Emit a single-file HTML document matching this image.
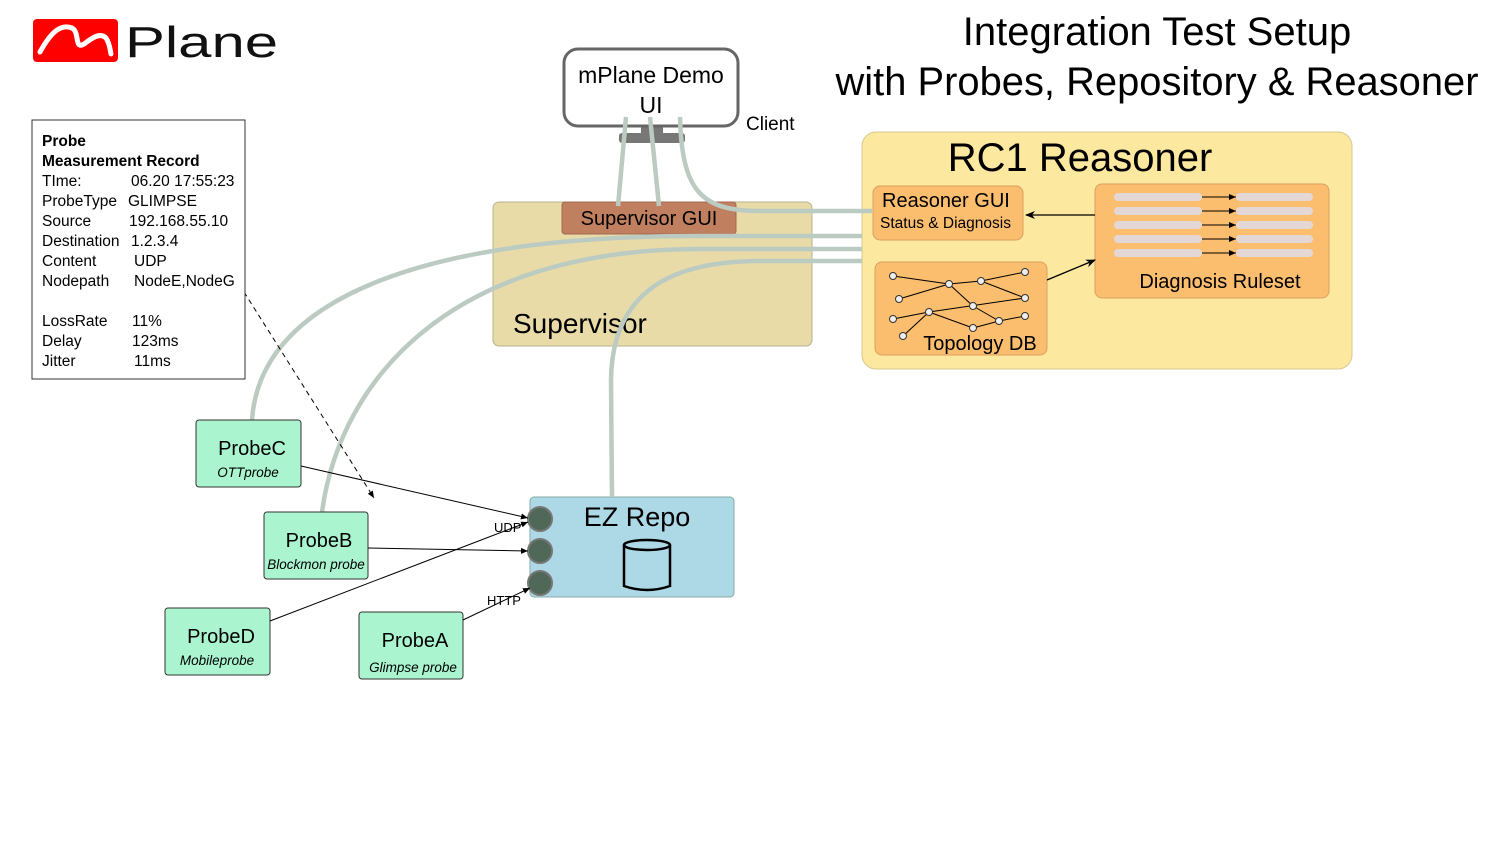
<!DOCTYPE html>
<html><head><meta charset="utf-8"><style>
html,body{margin:0;padding:0;background:#fff;}
svg{display:block;font-family:"Liberation Sans",Arial,sans-serif;}
</style></head><body>
<svg width="1500" height="850" viewBox="0 0 1500 850" xmlns="http://www.w3.org/2000/svg">
<defs>
<marker id="a" markerWidth="10" markerHeight="8" refX="9" refY="4" orient="auto" markerUnits="userSpaceOnUse"><path d="M0,0 L10,4 L0,8 L3,4 z" fill="#000"/></marker>
<marker id="s" markerWidth="7" markerHeight="6" refX="7" refY="3" orient="auto" markerUnits="userSpaceOnUse"><path d="M0,0 L7,3 L0,6 z" fill="#000"/></marker>
</defs>
<!-- logo -->
<rect x="33" y="19" width="85" height="43" rx="4" fill="#f00"/>
<path d="M40,52 C52,30 62,24 72,28 C80,32 74,50 84,44 C92,38 100,32 106,38 C110,44 110,50 111,54" fill="none" stroke="#fff" stroke-width="5" stroke-linecap="round"/>
<text x="125" y="57" font-size="44" fill="#111" textLength="153" lengthAdjust="spacingAndGlyphs">Plane</text>
<!-- title -->
<text x="1157" y="45" font-size="40" text-anchor="middle">Integration Test Setup</text>
<text x="1157" y="95" font-size="40" text-anchor="middle" textLength="643" lengthAdjust="spacingAndGlyphs">with Probes, Repository &amp; Reasoner</text>
<!-- supervisor -->
<rect x="493" y="202" width="319" height="144" rx="6" fill="#e8dba8" stroke="#b8b090"/>
<text x="513" y="333" font-size="28">Supervisor</text>
<rect x="562" y="202" width="174" height="32" rx="3" fill="#c08060" stroke="#a06a50"/>
<text x="649" y="225" font-size="20" text-anchor="middle">Supervisor GUI</text>
<!-- reasoner -->
<rect x="862" y="132" width="490" height="237" rx="14" fill="#fde8a0" stroke="#d8c890"/>
<text x="1080" y="171" font-size="40" text-anchor="middle">RC1 Reasoner</text>
<rect x="873" y="186" width="150" height="54" rx="7" fill="#fbbd6e" stroke="#d9a060"/>
<text x="882" y="207" font-size="20">Reasoner GUI</text>
<text x="880" y="228" font-size="15.5">Status &amp; Diagnosis</text>
<rect x="1095" y="184" width="234" height="114" rx="7" fill="#fbbd6e" stroke="#d9a060"/>
<g fill="#e4d8d6">
<rect x="1114" y="193" width="88" height="8" rx="4"/><rect x="1236" y="193" width="77" height="8" rx="4"/>
<rect x="1114" y="207" width="88" height="8" rx="4"/><rect x="1236" y="207" width="77" height="8" rx="4"/>
<rect x="1114" y="221" width="88" height="8" rx="4"/><rect x="1236" y="221" width="77" height="8" rx="4"/>
<rect x="1114" y="235" width="88" height="8" rx="4"/><rect x="1236" y="235" width="77" height="8" rx="4"/>
<rect x="1114" y="249" width="88" height="8" rx="4"/><rect x="1236" y="249" width="77" height="8" rx="4"/>
</g>
<g stroke="#000" stroke-width="1">
<line x1="1202" y1="197" x2="1236" y2="197" marker-end="url(#s)"/>
<line x1="1202" y1="211" x2="1236" y2="211" marker-end="url(#s)"/>
<line x1="1202" y1="225" x2="1236" y2="225" marker-end="url(#s)"/>
<line x1="1202" y1="239" x2="1236" y2="239" marker-end="url(#s)"/>
<line x1="1202" y1="253" x2="1236" y2="253" marker-end="url(#s)"/>
</g>
<text x="1220" y="288" font-size="20" text-anchor="middle">Diagnosis Ruleset</text>
<line x1="1095" y1="215" x2="1026" y2="215" stroke="#000" stroke-width="1.3" marker-end="url(#a)"/>
<rect x="875" y="262" width="172" height="93" rx="7" fill="#fbbd6e" stroke="#d9a060"/>
<line x1="1047" y1="280" x2="1095" y2="260" stroke="#000" stroke-width="1.3" marker-end="url(#a)"/>
<g stroke="#000" stroke-width="1">
<line x1="893" y1="276" x2="949" y2="284"/><line x1="949" y1="284" x2="981" y2="281"/><line x1="981" y1="281" x2="1025" y2="272"/>
<line x1="899" y1="299" x2="949" y2="284"/><line x1="949" y1="284" x2="973" y2="306"/><line x1="981" y1="281" x2="1025" y2="298"/>
<line x1="893" y1="319" x2="929" y2="312"/><line x1="929" y1="312" x2="1025" y2="298"/><line x1="973" y1="306" x2="999" y2="321"/>
<line x1="929" y1="312" x2="973" y2="328"/><line x1="973" y1="328" x2="999" y2="321"/><line x1="999" y1="321" x2="1025" y2="316"/>
<line x1="903" y1="336" x2="929" y2="312"/>
</g>
<g fill="#eee" stroke="#333" stroke-width="1">
<circle cx="893" cy="276" r="3.5"/><circle cx="949" cy="284" r="3.5"/><circle cx="981" cy="281" r="3.5"/><circle cx="1025" cy="272" r="3.5"/>
<circle cx="899" cy="299" r="3.5"/><circle cx="973" cy="306" r="3.5"/><circle cx="1025" cy="298" r="3.5"/><circle cx="893" cy="319" r="3.5"/>
<circle cx="929" cy="312" r="3.5"/><circle cx="973" cy="328" r="3.5"/><circle cx="999" cy="321" r="3.5"/><circle cx="1025" cy="316" r="3.5"/><circle cx="903" cy="336" r="3.5"/>
</g>
<text x="980" y="350" font-size="20" text-anchor="middle">Topology DB</text>
<!-- monitor -->
<rect x="641" y="126" width="22" height="8" fill="#777"/>
<rect x="619" y="133" width="66" height="10" rx="3" fill="#777"/>
<rect x="564" y="49" width="174" height="77" rx="14" fill="#fff" stroke="#666" stroke-width="3"/>
<text x="651" y="83" font-size="23" text-anchor="middle">mPlane Demo</text>
<text x="651" y="113" font-size="23" text-anchor="middle">UI</text>
<text x="746" y="130" font-size="19">Client</text>
<!-- ez repo -->
<rect x="530" y="497" width="204" height="100" rx="4" fill="#add8e6" stroke="#8aa"/>
<text x="637" y="526" font-size="27" text-anchor="middle">EZ Repo</text>
<path d="M624,545 L624,586 Q647,594 670,586 L670,545" fill="none" stroke="#000" stroke-width="2.5"/>
<ellipse cx="647" cy="545" rx="23" ry="5" fill="none" stroke="#000" stroke-width="2.5"/>
<g fill="#506858" stroke="#777" stroke-width="2">
<circle cx="540" cy="519" r="12"/><circle cx="540" cy="551" r="12"/><circle cx="540" cy="583" r="12"/>
</g>
<!-- grey connectors -->
<g fill="none" stroke="#bccbc2" stroke-width="4.5">
<path d="M626,117 L618,206"/>
<path d="M650,117 L659,206"/>
<path d="M680,117 C682,190 700,211 760,211 L872,211"/>
<path d="M252,420 C260,300 420,236 700,236 L862,236"/>
<path d="M322,512 C340,380 450,249 700,249 L862,249"/>
<path d="M612,497 L611,380 C612,300 660,261 760,261 L862,261"/>
</g>
<!-- probes -->
<g fill="#aaf5cf" stroke="#333" stroke-width="1">
<rect x="196" y="420" width="105" height="67" rx="3"/>
<rect x="264" y="512" width="104" height="67" rx="3"/>
<rect x="165" y="608" width="105" height="67" rx="3"/>
<rect x="359" y="612" width="104" height="67" rx="3"/>
</g>
<g font-size="20" text-anchor="middle">
<text x="252" y="455">ProbeC</text><text x="319" y="547">ProbeB</text><text x="221" y="643">ProbeD</text><text x="415" y="647">ProbeA</text>
</g>
<g font-size="13.5" font-style="italic" text-anchor="middle">
<text x="248" y="477">OTTprobe</text><text x="316" y="569">Blockmon probe</text><text x="217" y="665">Mobileprobe</text><text x="413" y="672">Glimpse probe</text>
</g>
<g stroke="#000" stroke-width="1" fill="none">
<line x1="301" y1="466" x2="528" y2="518" marker-end="url(#s)"/>
<line x1="368" y1="548" x2="528" y2="551" marker-end="url(#s)"/>
<line x1="270" y1="621" x2="528" y2="522" marker-end="url(#s)"/>
<line x1="463" y1="620" x2="530" y2="588" marker-end="url(#s)"/>
<line x1="244" y1="292" x2="374" y2="498" stroke-dasharray="5,4" marker-end="url(#s)"/>
</g>
<text x="494" y="532" font-size="13">UDP</text>
<text x="487" y="605" font-size="13">HTTP</text>
<!-- record -->
<rect x="32" y="120" width="213" height="259" fill="#fff" stroke="#333" stroke-width="1"/>
<g font-size="15.5">
<text x="42" y="146" font-weight="bold">Probe</text>
<text x="42" y="166" font-weight="bold">Measurement Record</text>
<text x="42" y="186">TIme:</text><text x="131" y="186">06.20 17:55:23</text>
<text x="42" y="206">ProbeType</text><text x="128" y="206">GLIMPSE</text>
<text x="42" y="226">Source</text><text x="129" y="226">192.168.55.10</text>
<text x="42" y="246">Destination</text><text x="131" y="246">1.2.3.4</text>
<text x="42" y="266">Content</text><text x="134" y="266">UDP</text>
<text x="42" y="286">Nodepath</text><text x="134" y="286">NodeE,NodeG</text>
<text x="42" y="326">LossRate</text><text x="132" y="326">11%</text>
<text x="42" y="346">Delay</text><text x="132" y="346">123ms</text>
<text x="42" y="366">Jitter</text><text x="134" y="366">11ms</text>
</g>
</svg>
</body></html>
